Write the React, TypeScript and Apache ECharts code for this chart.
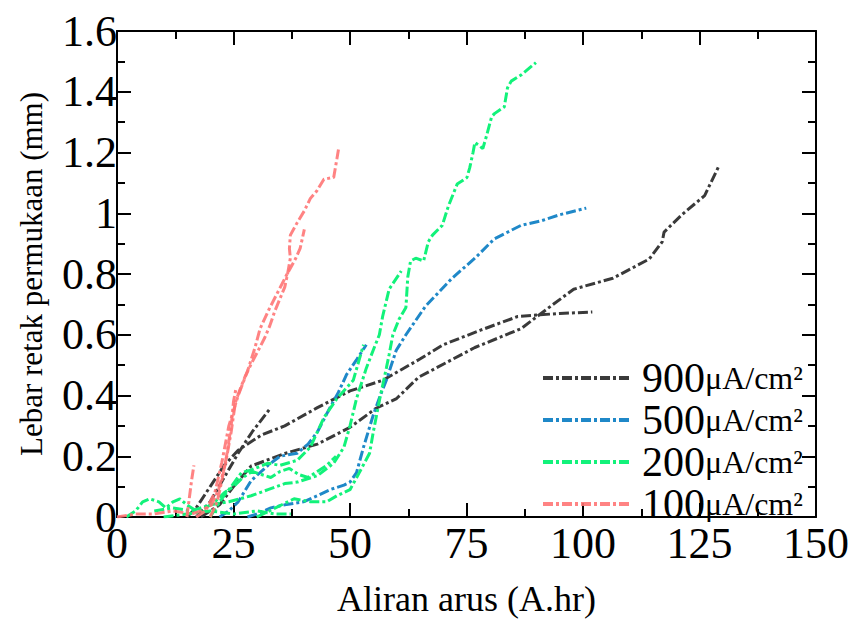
import React, { useEffect, useRef } from "react";
import * as echarts from "echarts";

const FONT = "Liberation Serif";

const seriesNames = ["900μA/cm²", "500μA/cm²", "200μA/cm²", "100μA/cm²"];
const seriesColors = ["#3a3a3a", "#1f88c8", "#12f27a", "#ff7676"];

// 900 μA/cm²
const k900A = [[15,0],[17,0.03],[20,0.1],[23,0.17],[26,0.22],[31,0.27],[36,0.3],[43,0.36],[50,0.415],[57,0.45],[61,0.485],[65,0.52],[70,0.567],[78,0.615],[86,0.66],[90,0.665],[95,0.67],[102,0.675]];
const k900B = [[18,0],[22,0.04],[25,0.1],[28.8,0.168],[36,0.209],[43,0.24],[50,0.295],[55.6,0.358],[60,0.39],[64.7,0.46],[76.8,0.558],[86.7,0.62],[92.2,0.684],[98,0.75],[106.4,0.786],[114.2,0.849],[117,0.906],[117.4,0.938],[121.2,0.995],[126.1,1.058],[129.3,1.16]];
const k900C = [[17,0],[20,0.05],[23,0.13],[26,0.21],[29,0.28],[33,0.36]];

// 500 μA/cm²
const b500A = [[28,0],[30,0.01],[33,0.03],[36,0.04],[40,0.05],[43,0.07],[45.7,0.09],[48.7,0.105],[50,0.115],[51.4,0.146],[52.9,0.23],[55,0.336],[56.5,0.4],[57.8,0.45],[59.9,0.548],[62,0.6],[66.2,0.694],[71.9,0.786],[76.8,0.852],[81,0.916],[86.7,0.96],[91,0.975],[95,0.995],[100.7,1.017]];
const b500B = [[22,0],[24,0.02],[26,0.05],[28.8,0.12],[32.4,0.17],[35,0.2],[38.7,0.21],[41,0.24],[43,0.28],[45.7,0.36],[47.5,0.41],[49.3,0.47],[51.5,0.52],[53.5,0.567]];

// 200 μA/cm²
const g200A = [[30,0],[34,0.03],[38,0.06],[41.5,0.05],[45,0.05],[47.2,0.07],[50,0.09],[52,0.146],[54.2,0.21],[55,0.28],[56.4,0.39],[57.8,0.49],[58.4,0.535],[59.2,0.6],[60.5,0.65],[62,0.69],[62.4,0.79],[63,0.843],[64.1,0.852],[65.8,0.843],[66.8,0.906],[67.7,0.928],[69.8,0.96],[71.1,1.023],[73,1.096],[74,1.106],[75.1,1.118],[75.7,1.15],[76.4,1.2],[76.8,1.233],[78.5,1.213],[79.3,1.255],[80.4,1.318],[81,1.328],[83.1,1.35],[83.8,1.413],[84.6,1.435],[86.7,1.455],[89.9,1.496]];
const g200B = [[8,0.02],[12,0.03],[16,0.02],[20,0.04],[24,0.05],[28.8,0.07],[32.4,0.09],[36,0.11],[38.7,0.115],[43,0.136],[46.5,0.177],[48.7,0.23],[50,0.3],[51.4,0.39],[53.5,0.49],[55,0.55],[56.3,0.6],[57,0.66],[58.4,0.75],[61,0.81]];
const g200C = [[20,0],[22,0.05],[24.5,0.1],[26.7,0.146],[28.8,0.155],[32.4,0.177],[35,0.17],[38.7,0.187],[41.5,0.23],[44.4,0.327],[47.2,0.39],[50.7,0.45],[52.9,0.567]];
const g200D = [[2,0],[4,0.02],[5.5,0.05],[7,0.06],[9,0.05],[10.5,0.03],[12,0.05],[13.5,0.06],[15,0.04],[17,0.02],[19,0.03],[21,0.05],[23,0.08],[25,0.1],[27,0.13],[29,0.15],[31,0.14],[33,0.13],[35,0.15],[37,0.16],[39,0.14],[41,0.13],[43,0.15],[45,0.17],[47,0.2]];
const g200E = [[10,0],[15,0.01],[20,0.02],[25,0.01],[30,0.02],[34,0.01],[37.3,0.01]];

// 100 μA/cm²
const r100A = [[0,0],[4,0.01],[8,0.01],[12,0.02],[16,0.01],[18,0.02],[20.3,0.04],[21.8,0.09],[23.3,0.177],[24.5,0.28],[25.4,0.377],[26.4,0.42],[27.5,0.463],[28.8,0.504],[30.3,0.548],[31.7,0.59],[32.8,0.63],[33.8,0.675],[34.9,0.716],[36,0.757],[36.6,0.8],[37.2,0.852],[37,0.884],[37.2,0.928],[38.7,0.97],[40.2,1.008],[41.5,1.049],[42.9,1.074],[44.4,1.112],[46.5,1.118],[47.2,1.18],[47.6,1.217]];
const r100B = [[17,0],[19,0.02],[21,0.08],[22.5,0.18],[24,0.3],[26,0.4],[28,0.48],[29.6,0.557],[30.7,0.62],[32.5,0.68],[34.5,0.74],[36.5,0.8],[38.3,0.85],[39.3,0.884],[40.2,0.947]];
const r100C = [[15,0],[15.5,0.06],[16,0.12],[16.5,0.17]];
const r100D = [[20,0],[21.5,0.05],[22.5,0.12],[23.5,0.2],[24.5,0.3],[25,0.38],[25.5,0.42]];

const groups = [
  [k900A, k900B, k900C],
  [b500A, b500B],
  [g200A, g200B, g200C, g200D, g200E],
  [r100A, r100B, r100C, r100D],
];

const xTicks = { min: 0, max: 150, interval: 25 };
const yTicks = { min: 0, max: 1.6, interval: 0.2 };

export default function App() {
  const ref = useRef<HTMLDivElement>(null);
  useEffect(() => {
    if (!ref.current) return;
    const chart = echarts.init(ref.current, undefined, { renderer: "svg" });
    const series: any[] = [];
    groups.forEach((g, gi) => {
      g.forEach((d) => {
        series.push({
          type: "line",
          name: seriesNames[gi],
          data: d,
          symbol: "none",
          showSymbol: false,
          xAxisIndex: 0,
          yAxisIndex: 0,
          lineStyle: { color: seriesColors[gi], width: 3, type: [10, 3, 3, 3], opacity: gi === 3 ? 0.9 : 1 },
          itemStyle: { color: seriesColors[gi] },
        });
      });
    });
    const axisLine = { onZero: false, lineStyle: { color: "#000", width: 2 } };
    const tickStyle = { color: "#000", width: 2 };
    const xBase = {
      type: "value",
      ...xTicks,
      splitLine: { show: false },
      axisLine,
      axisTick: { inside: true, length: 14, lineStyle: tickStyle },
      minorTick: { show: true, splitNumber: 2, length: 8, lineStyle: tickStyle },
    };
    const yBase = {
      type: "value",
      ...yTicks,
      splitLine: { show: false },
      axisLine,
      axisTick: { inside: true, length: 14, lineStyle: tickStyle },
      minorTick: { show: true, splitNumber: 2, length: 8, lineStyle: tickStyle },
    };
    chart.setOption({
      animation: false,
      backgroundColor: "#fff",
      grid: { left: 109, right: 26, top: 23, bottom: 86 },
      legend: {
        data: seriesNames,
        orient: "vertical",
        left: 528,
        top: 344,
        itemWidth: 87,
        itemHeight: 14,
        itemGap: 0,
        itemStyle: { opacity: 0 },
        lineStyle: { width: 4 },
        formatter: (name: string) => {
          const n = name.replace("μA/cm²", "");
          return `{n|${n}}{u|μA/cm²}`;
        },
        textStyle: {
          padding: [0, 0, 0, 7],
          rich: {
            n: { fontFamily: FONT, fontSize: 42, color: "#000", lineHeight: 36 },
            u: { fontFamily: FONT, fontSize: 32, color: "#000", lineHeight: 36 },
          },
        },
      },
      xAxis: [
        {
          ...xBase,
          position: "bottom",
          axisLabel: { fontFamily: FONT, fontSize: 44, color: "#000", margin: 4 },
          name: "Aliran arus (A.hr)",
          nameLocation: "middle",
          nameGap: 64,
          nameTextStyle: { fontFamily: FONT, fontSize: 36, color: "#000" },
        },
        { ...xBase, position: "top", axisLabel: { show: false } },
      ],
      yAxis: [
        {
          ...yBase,
          position: "left",
          axisLabel: { fontFamily: FONT, fontSize: 44, color: "#000", margin: 0 },
          name: "Lebar retak permukaan (mm)",
          nameLocation: "middle",
          nameGap: 70,
          nameTextStyle: { fontFamily: FONT, fontSize: 31, color: "#000" },
        },
        { ...yBase, position: "right", axisLabel: { show: false } },
      ],
      series,
    });
    return () => chart.dispose();
  }, []);
  return <div ref={ref} style={{ width: 844, height: 614 }} />;
}
